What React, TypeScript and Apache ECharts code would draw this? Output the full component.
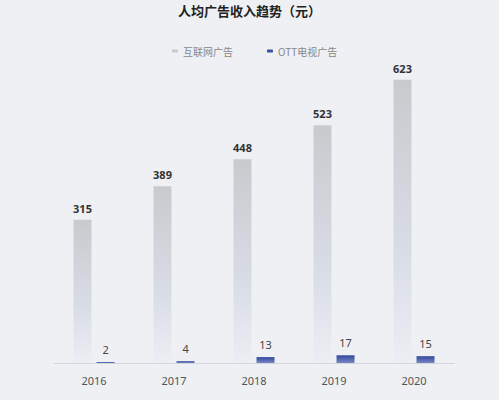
import React, { useEffect, useRef } from "react";
import * as echarts from "echarts";

const categories = ["2016", "2017", "2018", "2019", "2020"];
const internetAd = [315, 389, 448, 523, 623];
const ottAd = [2, 4, 13, 17, 15];
const seriesNames = ["互联网广告", "OTT电视广告"];
const titleText = "人均广告收入趋势（元）";

export default function App() {
  const ref = useRef<HTMLDivElement>(null);
  useEffect(() => {
    if (!ref.current) return;
    const chart = echarts.init(ref.current, undefined, { renderer: "svg" });
    chart.setOption({
      animation: false,
      backgroundColor: "#eef0f4",
      title: {
        text: titleText,
        left: "center",
        top: -1,
        textStyle: { fontSize: 13, fontWeight: "bold", color: "#222", fontFamily: "Noto Sans CJK SC" },
      },
      legend: {
        top: 41,
        left: 167,
        itemWidth: 6,
        itemHeight: 3,
        itemGap: 34,
        textStyle: { fontSize: 10, color: "#888", fontFamily: "Noto Sans CJK SC" },
        data: [
          { name: seriesNames[0], itemStyle: { color: "#c8cacd" } },
          { name: seriesNames[1], itemStyle: { color: "#3d4fa0" } },
        ],
      },
      grid: { left: 54, right: 45, top: 63, bottom: 37 },
      xAxis: {
        type: "category",
        data: categories,
        axisLine: { lineStyle: { color: "#d3d6db" } },
        axisTick: { show: false },
        axisLabel: { color: "#555", fontSize: 11, margin: 12, fontFamily: "Noto Sans" },
      },
      yAxis: { type: "value", min: 0, max: 660, show: false, splitLine: { show: false } },
      series: [
        {
          name: seriesNames[0],
          type: "bar",
          data: internetAd,
          barWidth: 18,
          barGap: "28%",
          itemStyle: {
            color: new echarts.graphic.LinearGradient(0, 0, 0, 1, [
              { offset: 0, color: "#c8cacd" },
              { offset: 0.6, color: "#d8dce6" },
              { offset: 1, color: "#ebeef4" },
            ]),
          },
          label: {
            show: true,
            position: "top",
            distance: 6,
            color: "#333",
            fontSize: 11,
            fontWeight: "bold",
            fontFamily: "Noto Sans",
          },
        },
        {
          name: seriesNames[1],
          type: "bar",
          data: ottAd,
          barWidth: 18,
          barMinHeight: 1,
          itemStyle: {
            color: new echarts.graphic.LinearGradient(0, 0, 0, 1, [
              { offset: 0, color: "#34489c" },
              { offset: 1, color: "#7686c4" },
            ]),
          },
          label: {
            show: true,
            position: "top",
            distance: 7,
            color: "#444",
            fontSize: 11,
            fontFamily: "Noto Sans",
          },
        },
      ],
    });
    return () => chart.dispose();
  }, []);
  return <div ref={ref} style={{ position: "fixed", left: 0, top: 0, width: 499, height: 400 }} />;
}
